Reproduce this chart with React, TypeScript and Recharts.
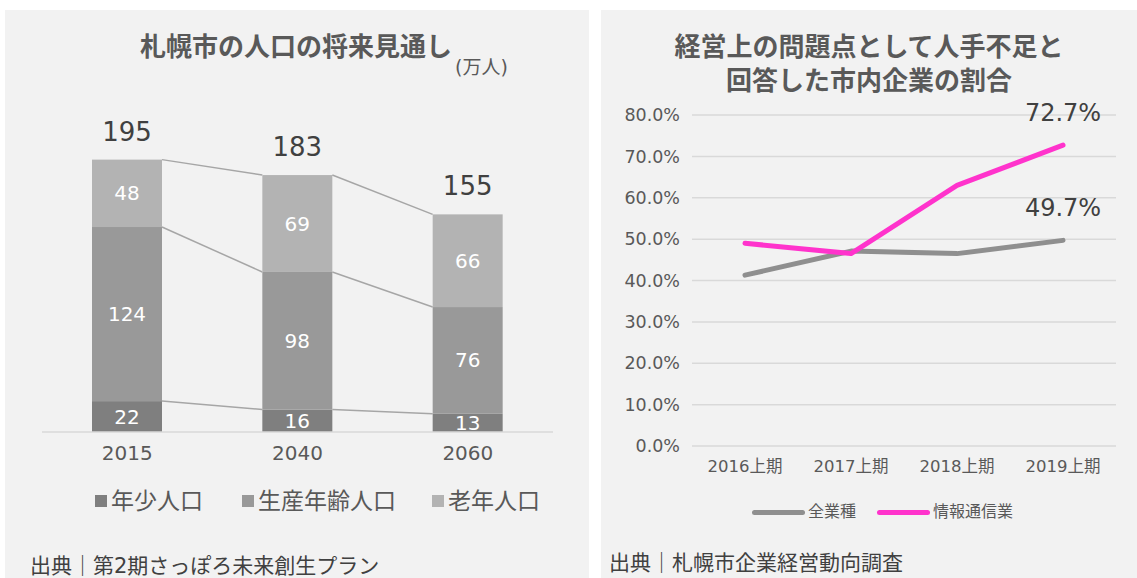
import React from "react";
import { Bar, BarChart, CartesianGrid, LabelList, Line, LineChart, XAxis, YAxis } from "recharts";

// 札幌市の人口の将来見通し (万人)
const years = ["2015", "2040", "2060"];
const youngPop = [22, 16, 13];
const workingPop = [124, 98, 76];
const elderlyPop = [48, 69, 66];
const totalPop = [195, 183, 155];

// 人手不足と回答した市内企業の割合 (%)
const periods = ["2016上期", "2017上期", "2018上期", "2019上期"];
const allIndustries = [41.3, 47.1, 46.5, 49.7];
const infoComm = [49.0, 46.5, 63.0, 72.7];
const pctTicks = [0, 10, 20, 30, 40, 50, 60, 70, 80];

const FONT = "'DejaVu Sans', 'Noto Sans CJK JP', sans-serif";
const BG = "#f2f2f2";
const C_YOUNG = "#7f7f7f";
const C_WORK = "#999999";
const C_OLD = "#b3b3b3";
const C_ALL = "#8f8f8f";
const C_INFO = "#ff33cc";

const LW = 584;
const LH = 568;
const LM = { top: 71, right: 36, bottom: 116, left: 37 };
const STEP = (LW - LM.left - LM.right) / years.length;

const popRows = years.map((year, i) => ({
  year,
  young: youngPop[i],
  working: workingPop[i],
  elderly: elderlyPop[i],
}));
const cumYoung = youngPop;
const cumWork = youngPop.map((v, i) => v + workingPop[i]);
const cumAll = cumWork.map((v, i) => v + elderlyPop[i]);

const rateRows = periods.map((period, i) => ({ period, all: allIndustries[i], info: infoComm[i] }));

// bar segment + series line to the matching edge of the next bar
function segShape(fill: string, seg: number[], cum: number[]) {
  return (p: any) => {
    const { x, y, width, height, index } = p;
    const k = height / seg[index];
    const hasNext = index + 1 < cum.length;
    const y2 = hasNext ? y + (cum[index] - cum[index + 1]) * k : y;
    return (
      <g>
        <rect x={x} y={y} width={width} height={height} fill={fill} />
        {hasNext && <line x1={x + width} y1={y} x2={x + STEP} y2={y2} stroke="#a6a6a6" strokeWidth={1.5} />}
      </g>
    );
  };
}

const inLabel = { fill: "#ffffff", fontSize: 20, fontFamily: FONT };

function PopChart() {
  return (
    <BarChart width={LW} height={LH} data={popRows} margin={LM} barSize={70}>
      <XAxis dataKey="year" axisLine={{ stroke: "#d9d9d9", strokeWidth: 1.5 }} tickLine={false} tickMargin={8}
        tick={{ fill: "#595959", fontSize: 20, fontFamily: FONT }} />
      <YAxis hide domain={[0, 250]} />
      <Bar dataKey="young" stackId="p" fill={C_YOUNG} isAnimationActive={false} shape={segShape(C_YOUNG, youngPop, cumYoung)}>
        <LabelList dataKey="young" position="center" style={inLabel} />
      </Bar>
      <Bar dataKey="working" stackId="p" fill={C_WORK} isAnimationActive={false} shape={segShape(C_WORK, workingPop, cumWork)}>
        <LabelList dataKey="working" position="center" style={inLabel} />
      </Bar>
      <Bar dataKey="elderly" stackId="p" fill={C_OLD} isAnimationActive={false} shape={segShape(C_OLD, elderlyPop, cumAll)}>
        <LabelList dataKey="elderly" position="center" style={inLabel} />
        <LabelList dataKey="elderly" content={(p: any) => (
          <text x={p.x + p.width / 2} y={p.y - 28} textAnchor="middle" dominantBaseline="central"
            fill="#404040" fontSize={26} fontFamily={FONT}>{totalPop[p.index]}</text>
        )} />
      </Bar>
    </BarChart>
  );
}

function RateChart() {
  return (
    <LineChart width={536} height={568} data={rateRows} margin={{ top: 105, right: 21, bottom: 102, left: 6 }}>
      <CartesianGrid vertical={false} stroke="#d9d9d9" strokeWidth={1.5} />
      <XAxis dataKey="period" axisLine={false} tickLine={false} tickMargin={8} padding={{ left: 53, right: 53 }}
        tick={{ fill: "#595959", fontSize: 16.5, fontFamily: FONT }} />
      <YAxis width={85} domain={[0, 80]} ticks={pctTicks} axisLine={false} tickLine={false} tickMargin={6}
        tickFormatter={(v: number) => `${v.toFixed(1)}%`} tick={{ fill: "#595959", fontSize: 17.5, fontFamily: FONT }} />
      {[{ key: "all", color: C_ALL }, { key: "info", color: C_INFO }].map((s) => (
        <Line key={s.key} dataKey={s.key} type="linear" stroke={s.color} strokeWidth={5} dot={false}
          strokeLinejoin="round" strokeLinecap="round" isAnimationActive={false}>
          <LabelList dataKey={s.key} content={(p: any) => p.index === periods.length - 1 ? (
            <text x={p.x} y={p.y - 32} textAnchor="middle" dominantBaseline="central" fill="#404040"
              fontSize={24} fontFamily={FONT}>{`${Number(p.value).toFixed(1)}%`}</text>
          ) : null} />
        </Line>
      ))}
    </LineChart>
  );
}

const abs = (left: number, top: number, extra: React.CSSProperties = {}): React.CSSProperties => ({
  position: "absolute", left, top, ...extra,
});

export default function App() {
  const popLegend = [
    { name: "年少人口", color: C_YOUNG, left: 95 },
    { name: "生産年齢人口", color: C_WORK, left: 242 },
    { name: "老年人口", color: C_OLD, left: 432 },
  ];
  const rateLegend = [
    { name: "全業種", color: C_ALL, left: 752 },
    { name: "情報通信業", color: C_INFO, left: 877 },
  ];
  return (
    <div style={{ position: "absolute", left: 0, top: 0, width: 1137, height: 578, background: "#fff", fontFamily: FONT, overflow: "hidden" }}>
      <div style={abs(5, 10, { width: 584, height: 568, background: BG })}>
        <PopChart />
      </div>
      <div style={abs(601, 10, { width: 536, height: 568, background: BG })}>
        <RateChart />
      </div>

      <div style={abs(140, 32, { fontSize: 26, fontWeight: 700, color: "#595959", lineHeight: "30px", whiteSpace: "nowrap" })}>
        札幌市の人口の将来見通し
      </div>
      <div style={abs(455, 55, { fontSize: 19, color: "#595959", lineHeight: "24px", whiteSpace: "nowrap" })}>(万人)</div>

      <div style={abs(601, 30, { width: 536, textAlign: "center", fontSize: 26, fontWeight: 700, color: "#595959", lineHeight: "34px" })}>
        経営上の問題点として人手不足と<br />回答した市内企業の割合
      </div>

      {popLegend.map((l) => (
        <div key={l.name} style={abs(l.left, 486, { display: "flex", alignItems: "center", fontSize: 23, color: "#595959", lineHeight: "30px", whiteSpace: "nowrap" })}>
          <span style={{ display: "inline-block", width: 12, height: 12, background: l.color, marginRight: 4 }} />
          {l.name}
        </div>
      ))}
      {rateLegend.map((l) => (
        <div key={l.name} style={abs(l.left, 501, { display: "flex", alignItems: "center", fontSize: 16, color: "#595959", lineHeight: "22px", whiteSpace: "nowrap" })}>
          <span style={{ display: "inline-block", width: 53, height: 5, borderRadius: 3, background: l.color, marginRight: 3 }} />
          {l.name}
        </div>
      ))}

      <div style={abs(30, 554, { fontSize: 21, color: "#404040", lineHeight: "24px", whiteSpace: "nowrap" })}>
        出典｜第2期さっぽろ未来創生プラン
      </div>
      <div style={abs(609, 551, { fontSize: 21, color: "#404040", lineHeight: "24px", whiteSpace: "nowrap" })}>
        出典｜札幌市企業経営動向調査
      </div>
    </div>
  );
}
